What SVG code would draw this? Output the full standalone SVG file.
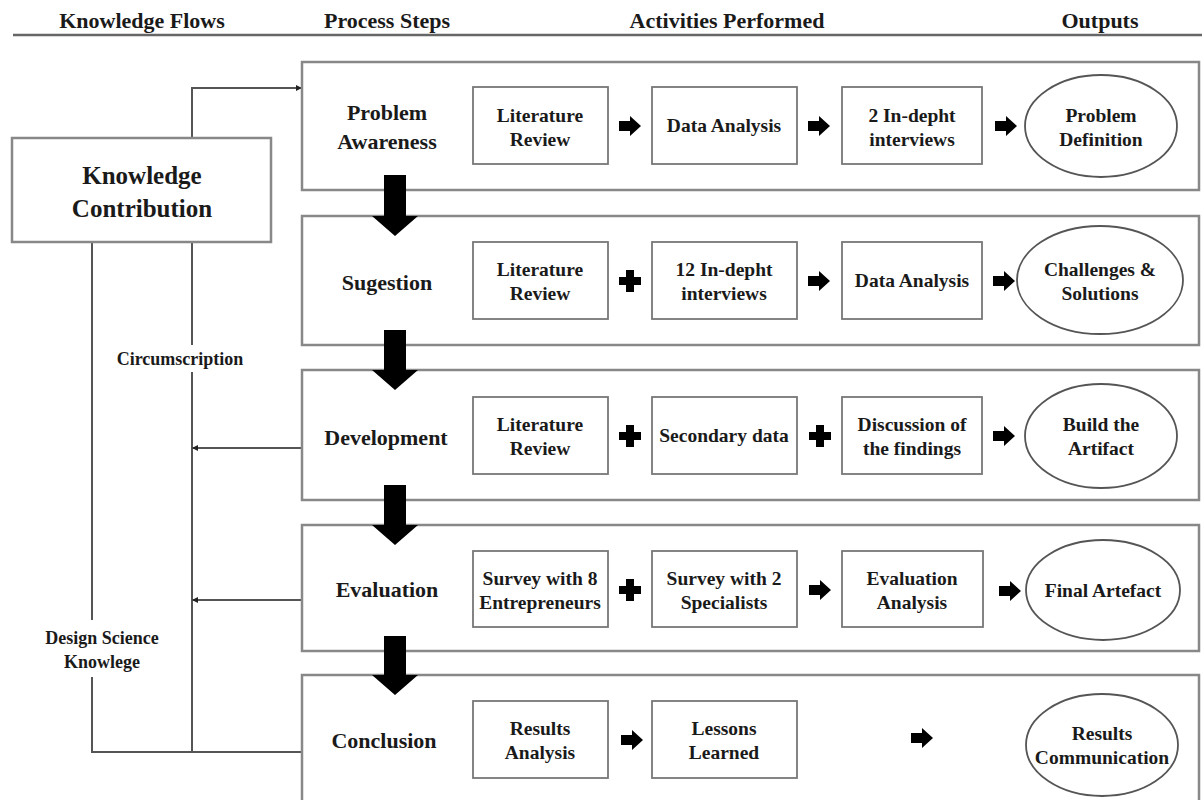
<svg xmlns="http://www.w3.org/2000/svg" xmlns:xlink="http://www.w3.org/1999/xlink" width="1202" height="800" viewBox="0 0 1202 800">
<style>
text{font-family:"Liberation Serif","Times New Roman",serif;font-weight:bold;fill:#1a1a1a;text-anchor:middle}
.hd{font-size:22px}
.st{font-size:22px}
.kc{font-size:25px}
.in{font-size:19.5px}
.sd{font-size:18px}
.step{fill:#fff;stroke:#888;stroke-width:2.5}
.box{fill:#fff;stroke:#777;stroke-width:1.8}
.ell{fill:#fff;stroke:#555;stroke-width:1.8}
.ln{fill:none;stroke:#555;stroke-width:2}
.blk{fill:#000}
</style>
<defs>
<marker id="ah" viewBox="0 0 10 10" refX="10" refY="5" markerWidth="6" markerHeight="6" markerUnits="userSpaceOnUse" orient="auto">
<path d="M0,0 L10,5 L0,10 Z" fill="#222"/>
</marker>
<path id="sa" d="M-11,-5 H0 V-10 L11,0 L0,10 V5 H-11 Z"/>
<path id="pl" d="M-4,-11 H4 V-4 H11 V4 H4 V11 H-4 V4 H-11 V-4 H-4 Z"/>
</defs>
<rect width="1202" height="800" fill="#fff"/>

<g id="header">
<text class="hd" x="142" y="28">Knowledge Flows</text>
<text class="hd" x="387" y="28">Process Steps</text>
<text class="hd" x="727" y="28">Activities Performed</text>
<text class="hd" x="1100" y="28">Outputs</text>
<line x1="13" y1="35" x2="1202" y2="35" stroke="#666" stroke-width="2.5"/>
</g>

<g id="connectors">
<polyline class="ln" points="192,138 192,88 302,88" marker-end="url(#ah)"/>
<line class="ln" x1="92" y1="242" x2="92" y2="620"/>
<line class="ln" x1="92" y1="677" x2="92" y2="752"/>
<line class="ln" x1="192" y1="242" x2="192" y2="345"/>
<line class="ln" x1="192" y1="372" x2="192" y2="752"/>
<line class="ln" x1="91" y1="752" x2="303" y2="752"/>
<line class="ln" x1="302" y1="448" x2="192" y2="448" marker-end="url(#ah)"/>
<line class="ln" x1="302" y1="600" x2="192" y2="600" marker-end="url(#ah)"/>
<text class="sd" x="180" y="365">Circumscription</text>
<text class="sd" x="102" y="644">Design Science</text>
<text class="sd" x="102" y="668">Knowlege</text>
</g>

<g id="knowledge-contribution">
<rect class="step" x="12" y="138" width="259" height="104"/>
<text class="kc" x="142" y="184">Knowledge</text>
<text class="kc" x="142" y="217">Contribution</text>
</g>

<g id="step-problem-awareness">
<rect class="step" x="302" y="62" width="897" height="128"/>
<text class="st" x="387" y="120">Problem</text>
<text class="st" x="387" y="149">Awareness</text>
<rect class="box" x="473" y="87" width="135" height="77"/>
<text class="in" x="540" y="122">Literature</text>
<text class="in" x="540" y="146">Review</text>
<use xlink:href="#sa" x="630" y="126"/>
<rect class="box" x="652" y="87" width="145" height="77"/>
<text class="in" x="724" y="132">Data Analysis</text>
<use xlink:href="#sa" x="819" y="126"/>
<rect class="box" x="842" y="87" width="140" height="77"/>
<text class="in" x="912" y="122">2 In-depht</text>
<text class="in" x="912" y="146">interviews</text>
<use xlink:href="#sa" x="1006" y="126"/>
<ellipse class="ell" cx="1101" cy="126" rx="76" ry="51"/>
<text class="in" x="1101" y="122">Problem</text>
<text class="in" x="1101" y="146">Definition</text>
</g>

<g id="step-sugestion">
<rect class="step" x="302" y="216" width="897" height="129"/>
<text class="st" x="387" y="290">Sugestion</text>
<rect class="box" x="473" y="242" width="135" height="77"/>
<text class="in" x="540" y="276">Literature</text>
<text class="in" x="540" y="300">Review</text>
<use xlink:href="#pl" x="630" y="281"/>
<rect class="box" x="652" y="242" width="145" height="77"/>
<text class="in" x="724" y="276">12 In-depht</text>
<text class="in" x="724" y="300">interviews</text>
<use xlink:href="#sa" x="819" y="281"/>
<rect class="box" x="842" y="242" width="140" height="77"/>
<text class="in" x="912" y="287">Data Analysis</text>
<use xlink:href="#sa" x="1004" y="281"/>
<ellipse class="ell" cx="1100" cy="280" rx="83" ry="54"/>
<text class="in" x="1100" y="276">Challenges &amp;</text>
<text class="in" x="1100" y="300">Solutions</text>
</g>

<g id="step-development">
<rect class="step" x="302" y="370" width="897" height="130"/>
<text class="st" x="386" y="445">Development</text>
<rect class="box" x="473" y="397" width="135" height="77"/>
<text class="in" x="540" y="431">Literature</text>
<text class="in" x="540" y="455">Review</text>
<use xlink:href="#pl" x="630" y="436"/>
<rect class="box" x="652" y="397" width="145" height="77"/>
<text class="in" x="724" y="442">Secondary data</text>
<use xlink:href="#pl" x="820" y="436"/>
<rect class="box" x="842" y="397" width="140" height="77"/>
<text class="in" x="912" y="431">Discussion of</text>
<text class="in" x="912" y="455">the findings</text>
<use xlink:href="#sa" x="1004" y="436"/>
<ellipse class="ell" cx="1101" cy="436" rx="76" ry="52"/>
<text class="in" x="1101" y="431">Build the</text>
<text class="in" x="1101" y="455">Artifact</text>
</g>

<g id="step-evaluation">
<rect class="step" x="302" y="525" width="897" height="126"/>
<text class="st" x="387" y="597">Evaluation</text>
<rect class="box" x="473" y="551" width="135" height="76"/>
<text class="in" x="540" y="585">Survey with 8</text>
<text class="in" x="540" y="609">Entrepreneurs</text>
<use xlink:href="#pl" x="630" y="590"/>
<rect class="box" x="652" y="551" width="145" height="76"/>
<text class="in" x="724" y="585">Survey with 2</text>
<text class="in" x="724" y="609">Specialists</text>
<use xlink:href="#sa" x="820" y="590"/>
<rect class="box" x="842" y="551" width="141" height="76"/>
<text class="in" x="912" y="585">Evaluation</text>
<text class="in" x="912" y="609">Analysis</text>
<use xlink:href="#sa" x="1010" y="591"/>
<ellipse class="ell" cx="1103" cy="590" rx="77" ry="50"/>
<text class="in" x="1103" y="597">Final Artefact</text>
</g>

<g id="step-conclusion">
<rect class="step" x="302" y="675" width="897" height="130"/>
<text class="st" x="384" y="748">Conclusion</text>
<rect class="box" x="473" y="701" width="135" height="77"/>
<text class="in" x="540" y="735">Results</text>
<text class="in" x="540" y="759">Analysis</text>
<use xlink:href="#sa" x="632" y="740"/>
<rect class="box" x="652" y="701" width="145" height="77"/>
<text class="in" x="724" y="735">Lessons</text>
<text class="in" x="724" y="759">Learned</text>
<use xlink:href="#sa" x="922" y="738"/>
<ellipse class="ell" cx="1102" cy="745" rx="76" ry="51"/>
<text class="in" x="1102" y="740">Results</text>
<text class="in" x="1102" y="764">Communication</text>
</g>

<g id="flow-arrows">
<path class="blk" d="M384,175 H406 V216 H418 L395,236 L372,216 H384 Z"/>
<path class="blk" d="M384,330 H406 V370 H418 L395,390 L372,370 H384 Z"/>
<path class="blk" d="M384,485 H406 V525 H418 L395,545 L372,525 H384 Z"/>
<path class="blk" d="M384,636 H406 V675 H418 L395,695 L372,675 H384 Z"/>
</g>
</svg>
